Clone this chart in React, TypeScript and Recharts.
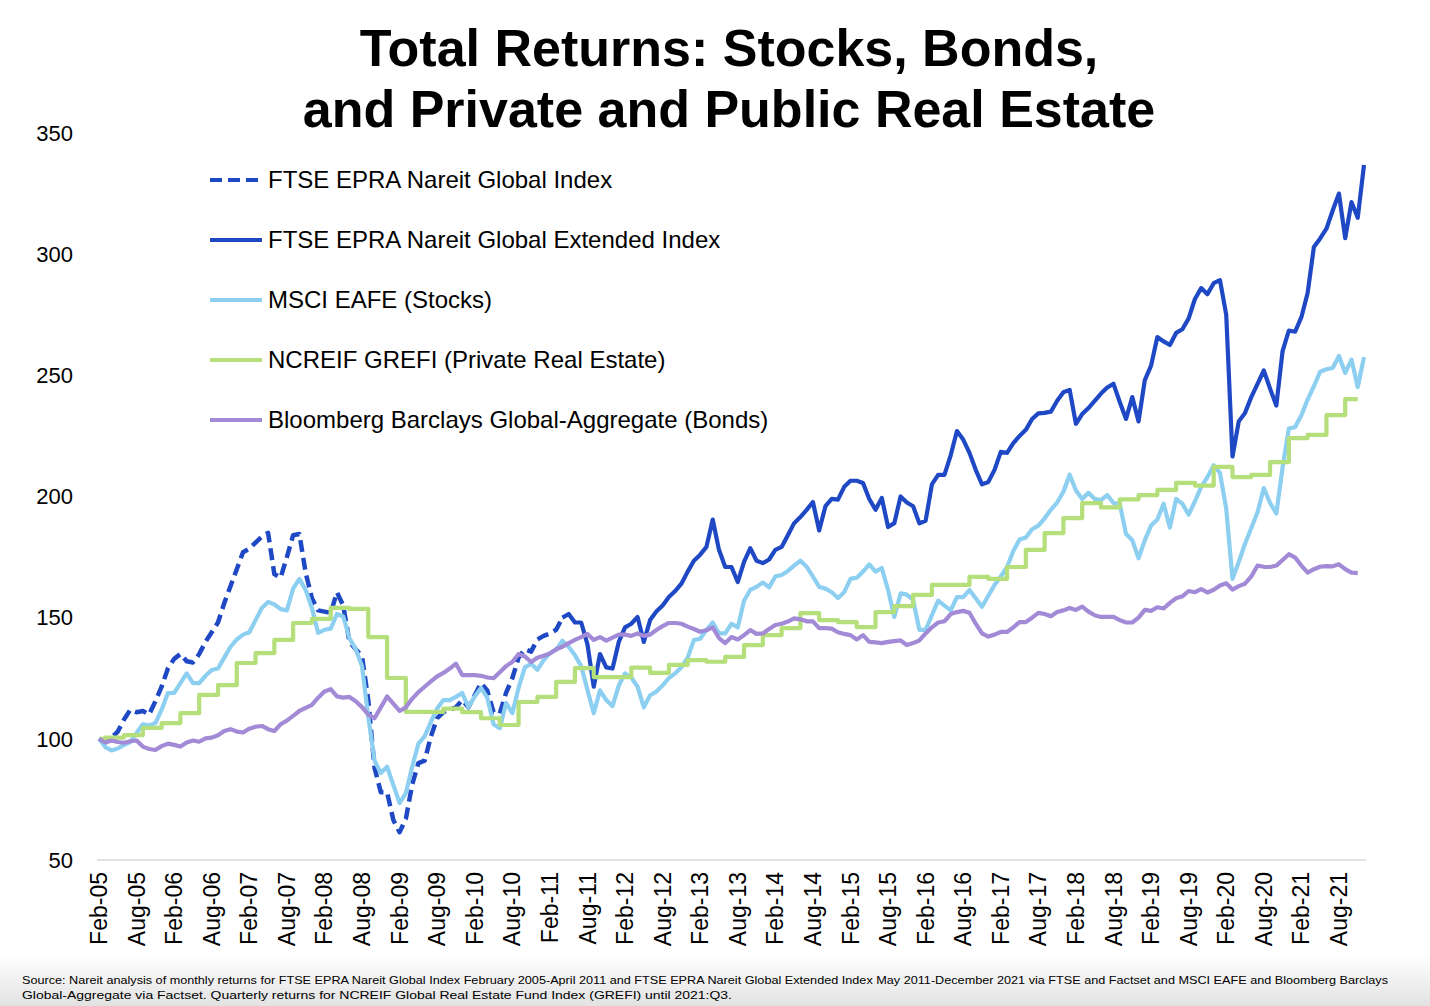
import { LineChart, Line, XAxis, YAxis } from 'recharts'

const FONT = '"Liberation Sans", Arial, Helvetica, sans-serif'

// month labels, Feb-05 .. Dec-21
const MONTH_NAMES = ['Jan', 'Feb', 'Mar', 'Apr', 'May', 'Jun', 'Jul', 'Aug', 'Sep', 'Oct', 'Nov', 'Dec']
const MONTHS: string[] = []
for (let yr = 2005; yr <= 2021; yr++) {
  MONTH_NAMES.forEach((mn, i) => {
    if (yr === 2005 && i === 0) return
    MONTHS.push(`${mn}-${String(yr % 100).padStart(2, '0')}`)
  })
}

const Y_TICKS = [50, 100, 150, 200, 250, 300, 350]

// FTSE EPRA Nareit Global Index, Feb-05 .. Apr-11
const NAREIT_GLOBAL = [
  100, 98.5, 100.5, 103, 108, 112, 111, 111.5, 110, 115.5, 121.5, 129,
  133, 135, 132, 131.5, 135, 140, 144, 148, 156, 163, 170, 177,
  178.5, 181, 183.5, 185, 168, 166.5, 175, 184, 184.5, 168.5, 158, 153,
  152.5, 152, 160.5, 155, 140, 137, 134, 116, 88, 78, 78, 66.5,
  61.5, 67, 81, 90, 91, 101, 108.5, 111, 112, 113, 116, 113,
  118, 123, 120, 111, 110.5, 119, 125, 133.5, 137, 136, 141, 142.5,
  143.5, 145, 150,
]

// FTSE EPRA Nareit Global Extended Index, joins at Apr-11 .. Dec-21
const EXTENDED_START = 'Apr-11'
const NAREIT_EXTENDED = [
  150, 151.5, 148, 148, 139, 121.5, 135, 129.5, 129, 140, 146, 147.5,
  150.3, 140, 149, 152.5, 155, 158.5, 161, 164, 169, 173.5, 176, 179.2,
  190.5, 178, 170.9, 170.9, 164.7, 173, 178.7, 173.5, 172.5, 174, 178, 179.2,
  184, 189, 191.5, 194.5, 197.7, 186, 196, 199, 198.7, 204, 206.5, 206.5,
  205.6, 199, 194.5, 199.4, 187.4, 189, 200, 197.5, 196, 188.9, 190, 205,
  208.9, 208.9, 217, 227, 223.5, 218, 211, 205, 206, 211, 218.4, 218,
  222, 225, 227.5, 232, 234.3, 234.5, 235, 239.5, 243, 244, 230, 234,
  236.5, 239.5, 242.5, 245, 246.5, 239, 232, 241, 231, 248, 254, 265.8,
  264, 262.5, 267.5, 269, 273.5, 281.5, 286, 283.5, 288, 289.3, 275, 216.5,
  231, 234.5, 241, 246.5, 252, 244.5, 237.5, 260, 268.5, 268, 274, 284,
  303, 306.5, 310.5, 318, 325, 306.6, 321.5, 315, 336.8,
]

// MSCI EAFE, Feb-05 .. Dec-21
const MSCI_EAFE = [
  100, 96.6, 95.2, 96, 97.5, 98.7, 102.4, 106, 105.5, 106.5, 112, 118.9,
  119, 123, 127, 123, 123, 126, 128.4, 129, 133.5, 138, 141, 143,
  144, 149, 154, 156.5, 155.5, 153.5, 153, 162, 166, 161.4, 154, 143.7,
  145, 145.5, 151.5, 150.5, 141.5, 137, 130, 109, 91, 85.9, 88.5, 81,
  73.5, 77.6, 88.4, 98, 101, 107, 112.5, 116, 116, 117.3, 118.9, 113.1,
  117.5, 121, 117, 106, 104.4, 114.8, 110.6, 121, 129.5, 131, 128.5, 132.5,
  135.4, 136.7, 140.5, 138, 134.5, 130, 120.2, 110.6, 120, 116, 113.5, 122,
  127, 125.3, 121.5, 113, 118, 119.5, 122, 125.1, 127, 129.5, 133.5, 140.8,
  141.3, 145, 148, 143.5, 143.5, 147.5, 146, 157, 161.5, 162.7, 164.5, 162.5,
  167, 167.6, 169.3, 171.5, 173.5, 171, 167, 162.7, 162, 160.5, 158.1, 160.5,
  166, 166.5, 169, 172, 169, 170.5, 161.4, 150.3, 160, 159.5, 157.3, 145,
  145, 151, 157, 155, 153, 158.5, 158.5, 161.4, 158, 154.5, 159, 163.5,
  167, 170.9, 177.5, 182.3, 183.1, 186.5, 188, 191, 194.5, 197.5, 202, 209,
  202.5, 199, 201.5, 199, 198.5, 200.6, 197.3, 197, 184.5, 182, 174.5, 182,
  188, 190.5, 197, 187.2, 199, 197, 192.5, 198, 204, 208, 212.9, 209.7,
  195, 166, 173, 180.5, 187, 193.5, 203.5, 197.3, 193, 212, 228, 228.7,
  233.5, 240, 245.5, 251.5, 252.5, 253, 258, 251, 256.5, 245.2, 257.5,
]

// NCREIF GREFI, quarterly
const GREFI_DATES = [
  'Feb-05', 'Mar-05', 'Jun-05', 'Sep-05', 'Dec-05',
  'Mar-06', 'Jun-06', 'Sep-06', 'Dec-06', 'Mar-07', 'Jun-07', 'Sep-07', 'Dec-07',
  'Mar-08', 'Jun-08', 'Sep-08', 'Dec-08', 'Mar-09', 'Jun-09', 'Sep-09', 'Dec-09',
  'Mar-10', 'Jun-10', 'Sep-10', 'Dec-10', 'Mar-11', 'Jun-11', 'Sep-11', 'Dec-11',
  'Mar-12', 'Jun-12', 'Sep-12', 'Dec-12', 'Mar-13', 'Jun-13', 'Sep-13', 'Dec-13',
  'Mar-14', 'Jun-14', 'Sep-14', 'Dec-14', 'Mar-15', 'Jun-15', 'Sep-15', 'Dec-15',
  'Mar-16', 'Jun-16', 'Sep-16', 'Dec-16', 'Mar-17', 'Jun-17', 'Sep-17', 'Dec-17',
  'Mar-18', 'Jun-18', 'Sep-18', 'Dec-18', 'Mar-19', 'Jun-19', 'Sep-19', 'Dec-19',
  'Mar-20', 'Jun-20', 'Sep-20', 'Dec-20', 'Mar-21', 'Jun-21', 'Sep-21', 'Nov-21',
]
const GREFI_VALUES = [
  100, 100.5, 101.5, 104.5, 106.5,
  110.6, 118.1, 122.2, 131.3, 135.4, 140.8, 147.8, 149.5,
  154, 153.6, 142, 125.1, 111.1, 111.1, 112.5, 111,
  108.5, 105.7, 115.2, 117.3, 123.5, 129.2, 125.5, 125.5,
  129.4, 127.2, 130.5, 132.5, 131.8, 133.8, 138.7, 142.8,
  145.7, 151.9, 149, 148.2, 146.1, 152.3, 154.8, 159.4,
  163.5, 163.5, 166.8, 166, 170.9, 178, 184.9, 191.1,
  197.3, 195.5, 198.8, 200.6, 202.7, 205.6, 204.5, 212.2,
  208, 208.9, 214.2, 224.1, 225.4, 233.6, 240.2, 240.2,
]

// Bloomberg Barclays Global-Aggregate, Feb-05 .. Nov-21
const BLOOMBERG_AGG = [
  100, 98.5, 99.3, 98.7, 98.4, 99, 99.3, 96.8, 95.8, 95.4, 97, 98,
  97.5, 96.8, 98.5, 99.3, 98.8, 100.2, 100.5, 101.5, 103.2, 104, 103, 102.6,
  104.2, 105, 105.3, 104, 103.2, 106, 107.5, 109.5, 111.5, 112.8, 114, 117,
  119.5, 120.5, 117.5, 117, 117.3, 115.5, 113.1, 110, 108.5, 113, 117.5, 114.5,
  111.5, 113, 116.5, 119.3, 121.5, 123.7, 125.8, 127.2, 129, 131, 126.3, 126.3,
  126.3, 126, 125.3, 125, 127.5, 130, 131.7, 135, 134, 131.7, 133.5, 134.3,
  135.2, 137, 138, 139.5, 140.8, 142, 143.3, 140.8, 142, 140.5, 141.8, 143,
  143, 142.5, 143.5, 142.5, 143, 144.9, 146.5, 147.8, 147.8, 147.5, 146.3, 145.3,
  144.2, 144.8, 146, 141.6, 139.5, 142, 141, 142.8, 144.9, 143.3, 143.5, 145.3,
  147, 147.5, 148.4, 149.7, 149.3, 148.5, 148.5, 145.7, 145.7, 145.5, 144, 143.3,
  142.8, 141, 142.8, 140, 139.8, 139.5, 140, 140.3, 140.6, 138.7, 139.5, 140.6,
  143.5, 146, 148, 148.5, 151.5, 152.3, 152.8, 152, 147.5, 143.5, 142.2, 143,
  144.1, 144.1, 146, 148.2, 148.2, 150, 152, 151.5, 150.6, 152.3, 153, 154,
  153.2, 154.6, 152.5, 151, 150.3, 150.3, 150.3, 149, 148, 148, 150, 153.2,
  152.8, 154.3, 153.8, 156.1, 158, 158.8, 161, 160.5, 161.8, 160.4, 161.5, 163.3,
  164.2, 161.6, 163, 164, 167, 171.5, 171, 170.9, 171.5, 173.8, 176.2, 174.8,
  171.5, 168.6, 170, 171, 171.3, 171.2, 172, 170, 168.6, 168.4,
]

const SERIES = [
  { key: 'global', name: 'FTSE EPRA Nareit Global Index', color: '#1f48c4', dash: '12 6' },
  { key: 'extended', name: 'FTSE EPRA Nareit Global Extended Index', color: '#1f48c4', dash: undefined },
  { key: 'msci', name: 'MSCI EAFE (Stocks)', color: '#8ccff0', dash: undefined },
  { key: 'grefi', name: 'NCREIF GREFI (Private Real Estate)', color: '#b5df7b', dash: undefined },
  { key: 'bonds', name: 'Bloomberg Barclays Global-Aggregate (Bonds)', color: '#a38ad6', dash: undefined },
]

const extStart = MONTHS.indexOf(EXTENDED_START)
const data = MONTHS.map((month, i) => ({
  month,
  global: i < NAREIT_GLOBAL.length ? NAREIT_GLOBAL[i] : null,
  extended: i >= extStart ? NAREIT_EXTENDED[i - extStart] ?? null : null,
  msci: MSCI_EAFE[i] ?? null,
  bonds: BLOOMBERG_AGG[i] ?? null,
  grefi: null as number | null,
}))
GREFI_DATES.forEach((d, k) => {
  const row = data.find(r => r.month === d)
  if (row) row.grefi = GREFI_VALUES[k]
})

function MonthTick({ x, y, payload }: any) {
  return (
    <text
      x={x}
      y={y}
      transform={`rotate(-90, ${x}, ${y})`}
      textAnchor="end"
      dy="0.35em"
      fill="#000"
      fontSize={23}
      fontFamily={FONT}
    >
      {payload.value}
    </text>
  )
}

export default function App() {
  return (
    <div
      style={{
        position: 'absolute',
        left: 0,
        top: 0,
        width: 1430,
        height: 1006,
        background: '#fff',
        overflow: 'hidden',
        fontFamily: FONT,
      }}
    >
      <div
        style={{
          position: 'absolute',
          left: 0,
          top: 955,
          width: 1430,
          height: 51,
          background: 'linear-gradient(to bottom, #ffffff, #e2e2e2)',
        }}
      />
      <div style={{ position: 'absolute', left: 0, top: 0 }}>
        <LineChart
          width={1430}
          height={1006}
          data={data}
          margin={{ top: 133, right: 64, bottom: 46, left: 0 }}
        >
          <XAxis
            dataKey="month"
            interval={5}
            height={100}
            tickSize={0}
            tickMargin={12}
            tickLine={false}
            axisLine={{ stroke: '#d9d9d9', strokeWidth: 1.5 }}
            padding={{ left: 2, right: 2 }}
            tick={<MonthTick />}
          />
          <YAxis
            width={97}
            domain={[50, 350]}
            ticks={Y_TICKS}
            axisLine={false}
            tickLine={false}
            tickSize={0}
            tickMargin={24}
            tick={{ fill: '#000', fontSize: 22, fontFamily: FONT }}
          />
          {SERIES.map(s => (
            <Line
              key={s.key}
              dataKey={s.key}
              name={s.name}
              type={s.key === 'grefi' ? 'stepAfter' : 'linear'}
              stroke={s.color}
              strokeWidth={s.key === 'global' ? 4.5 : 4.2}
              strokeDasharray={s.dash}
              strokeLinejoin="round"
              dot={false}
              activeDot={false}
              connectNulls
              isAnimationActive={false}
            />
          ))}
        </LineChart>
      </div>
      <svg
        width={1430}
        height={1006}
        style={{ position: 'absolute', left: 0, top: 0, pointerEvents: 'none' }}
      >
        <text x={729} y={66} textAnchor="middle" fontSize={52} fontWeight={700} fill="#000" fontFamily={FONT}>
          Total Returns: Stocks, Bonds,
        </text>
        <text x={729} y={127} textAnchor="middle" fontSize={52} fontWeight={700} fill="#000" fontFamily={FONT}>
          and Private and Public Real Estate
        </text>
        {SERIES.map((s, i) => (
          <g key={s.key}>
            <line
              x1={210}
              x2={262}
              y1={180 + i * 60}
              y2={180 + i * 60}
              stroke={s.color}
              strokeWidth={4}
              strokeDasharray={s.key === 'global' ? '12 6' : undefined}
            />
            <text x={268} y={188 + i * 60} fontSize={24} fill="#000" fontFamily={FONT}>
              {s.name}
            </text>
          </g>
        ))}
        <text x={22} y={984} fontSize={11} fill="#000" fontFamily={FONT} textLength={1366} lengthAdjust="spacingAndGlyphs">
          Source: Nareit analysis of monthly returns for FTSE EPRA Nareit Global Index February 2005-April 2011 and FTSE EPRA Nareit Global Extended Index May 2011-December 2021 via FTSE and Factset and MSCI EAFE and Bloomberg Barclays
        </text>
        <text x={22} y={999} fontSize={11} fill="#000" fontFamily={FONT} textLength={710} lengthAdjust="spacingAndGlyphs">
          Global-Aggregate via Factset. Quarterly returns for NCREIF Global Real Estate Fund Index (GREFI) until 2021:Q3.
        </text>
      </svg>
    </div>
  )
}
